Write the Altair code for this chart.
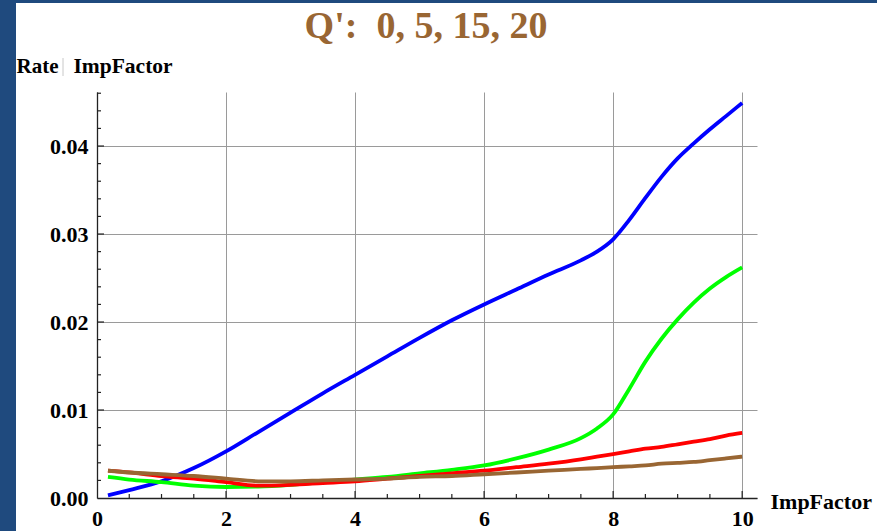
import altair as alt
import pandas as pd

# Sample points along ImpFactor shared by all four curves
imp_factor = [0.17, 0.5, 1, 1.5, 2, 2.5, 3, 3.5, 4, 4.5, 5, 5.5, 6, 6.5, 7, 7.5,
              7.75, 8, 8.25, 8.5, 8.75, 9, 9.25, 9.5, 9.75, 10]

# Rate for each Q' value
rate_q0 = [0.0003, 0.0009, 0.0019, 0.0034, 0.0053, 0.0075, 0.0097, 0.0119, 0.0140,
           0.0161, 0.0182, 0.0202, 0.0220, 0.0237, 0.0254, 0.0270, 0.0280, 0.0294,
           0.0316, 0.0341, 0.0365, 0.0386, 0.0403, 0.0419, 0.0434, 0.0449]
rate_q5 = [0.0024, 0.0021, 0.0018, 0.0014, 0.00125, 0.0013, 0.0015, 0.0018, 0.0021,
           0.0024, 0.0028, 0.0032, 0.0037, 0.0045, 0.0055, 0.0068, 0.0079, 0.0095,
           0.0124, 0.0155, 0.0181, 0.0203, 0.0222, 0.0238, 0.0251, 0.0262]
rate_q15 = [0.0031, 0.0029, 0.0025, 0.0022, 0.0018, 0.0014, 0.0015, 0.0017, 0.0019,
            0.0022, 0.0025, 0.0028, 0.0031, 0.0035, 0.0039, 0.0044, 0.0047, 0.0050,
            0.0053, 0.0056, 0.0058, 0.0061, 0.0064, 0.0067, 0.0071, 0.0074]
rate_q20 = [0.0031, 0.0029, 0.0027, 0.0025, 0.0022, 0.0019, 0.0019, 0.0020, 0.0021,
            0.0022, 0.0024, 0.0025, 0.0027, 0.0029, 0.0031, 0.0033, 0.0034, 0.0035,
            0.0036, 0.0037, 0.0039, 0.0040, 0.0041, 0.0043, 0.0045, 0.0047]

q_labels = ["0", "5", "15", "20"]
q_colors = ["#0000ff", "#00ff00", "#ff0000", "#996633"]
series = [rate_q0, rate_q5, rate_q15, rate_q20]

# Axis tick positions
x_major = [0, 2, 4, 6, 8, 10]
x_minor = [0.5, 1, 1.5, 2.5, 3, 3.5, 4.5, 5, 5.5, 6.5, 7, 7.5, 8.5, 9, 9.5]
y_major = [0.0, 0.01, 0.02, 0.03, 0.04]
y_minor = [0.002, 0.004, 0.006, 0.008, 0.012, 0.014, 0.016, 0.018, 0.022, 0.024,
           0.026, 0.028, 0.032, 0.034, 0.036, 0.038, 0.042, 0.044, 0.046]

rows = []
for q, vals in zip(q_labels, series):
    for x, r in zip(imp_factor, vals):
        rows.append({"Q": q, "ImpFactor": x, "Rate": r})
df = pd.DataFrame(rows)

W, H = 660, 406
FONT = "Liberation Serif"
AXIS_COLOR = "#222222"
FRAME_BLUE = "#1f4a7e"
TITLE_COLOR = "#996633"

x_scale = alt.Scale(domain=[0, 10.23], nice=False, zero=False)
y_scale = alt.Scale(domain=[0, 0.04614], nice=False)

one = pd.DataFrame({"k": [0]})

# Dark frame strips along the left and top edges
frame_left = alt.Chart(one).mark_rect(color=FRAME_BLUE).encode(
    x=alt.value(-97), x2=alt.value(-81), y=alt.value(-92), y2=alt.value(H + 33)
)
frame_top = alt.Chart(one).mark_rect(color=FRAME_BLUE).encode(
    x=alt.value(-97), x2=alt.value(W + 120), y=alt.value(-92), y2=alt.value(-89)
)

# Axes with grid lines (ticks drawn separately so they point inward)
axes = alt.Chart(df).mark_line(opacity=0).encode(
    x=alt.X("ImpFactor:Q", scale=x_scale,
            axis=alt.Axis(values=x_major, format="d", grid=True, gridColor="#9a9a9a",
                          gridWidth=1, tickSize=0, domainColor=AXIS_COLOR, domainWidth=1.3,
                          labelFont=FONT, labelFontWeight="bold", labelFontSize=22,
                          labelColor="black", labelPadding=10, labelFlush=False,
                          labelOverlap=False, title=None)),
    y=alt.Y("Rate:Q", scale=y_scale,
            axis=alt.Axis(values=y_major, format=".2f", grid=True, gridColor="#9a9a9a",
                          gridWidth=1, tickSize=0, domainColor=AXIS_COLOR, domainWidth=1.3,
                          labelFont=FONT, labelFontWeight="bold", labelFontSize=22,
                          labelColor="black", labelPadding=9, labelOverlap=False,
                          title=None)),
)

def x_ticks(values, length):
    return alt.Chart(pd.DataFrame({"ImpFactor": values})).mark_rule(
        color=AXIS_COLOR, strokeWidth=1.2
    ).encode(
        x=alt.X("ImpFactor:Q", scale=x_scale),
        y=alt.value(H), y2=alt.value(H - length),
    )

def y_ticks(values, length):
    return alt.Chart(pd.DataFrame({"Rate": values})).mark_rule(
        color=AXIS_COLOR, strokeWidth=1.2
    ).encode(
        y=alt.Y("Rate:Q", scale=y_scale),
        x=alt.value(0), x2=alt.value(length),
    )

ticks = [
    x_ticks(x_major[1:], 7), x_ticks(x_minor, 4),
    y_ticks(y_major[1:], 7), y_ticks(y_minor, 4),
]

# One line per Q' value, drawn in order so later curves sit on top
lines = []
for q, c in zip(q_labels, q_colors):
    lines.append(
        alt.Chart(df).transform_filter(alt.datum.Q == q).mark_line(
            color=c, strokeWidth=3.8, interpolate="monotone"
        ).encode(
            x=alt.X("ImpFactor:Q", scale=x_scale),
            y=alt.Y("Rate:Q", scale=y_scale),
        )
    )

# Heading and axis captions
heading = alt.Chart(one).mark_text(
    text="Q':\u00a0 0, 5, 15, 20", font=FONT, fontWeight="bold", fontSize=38,
    align="center", baseline="alphabetic", color=TITLE_COLOR
).encode(x=alt.value(W / 2 - 1), y=alt.value(-53.7))
y_cap_rate = alt.Chart(one).mark_text(
    text="Rate", font=FONT, fontWeight="bold", fontSize=21, align="left",
    baseline="alphabetic", color="black"
).encode(x=alt.value(-80.5), y=alt.value(-19.5))
y_cap_bar = alt.Chart(one).mark_rule(color="#c8c8c8", strokeWidth=1).encode(
    x=alt.value(-34), y=alt.value(-34), y2=alt.value(-16)
)
y_cap_imp = alt.Chart(one).mark_text(
    text="ImpFactor", font=FONT, fontWeight="bold", fontSize=21.5, align="left",
    baseline="alphabetic", color="black"
).encode(x=alt.value(-23.5), y=alt.value(-19.5))
x_cap = alt.Chart(one).mark_text(
    text="ImpFactor", font=FONT, fontWeight="bold", fontSize=22, align="left",
    baseline="alphabetic", color="black"
).encode(x=alt.value(W + 13.5), y=alt.value(H + 10.5))

chart = alt.layer(
    frame_left, frame_top, axes, *ticks, *lines,
    heading, y_cap_rate, y_cap_bar, y_cap_imp, x_cap,
).properties(
    width=W, height=H,
    autosize=alt.AutoSizeParams(type="none"),
    padding={"left": 97, "top": 92, "right": 120, "bottom": 33},
    background="white",
).configure_view(stroke=None)

chart.save("out.html", embed_options={"renderer": "svg", "actions": False})
